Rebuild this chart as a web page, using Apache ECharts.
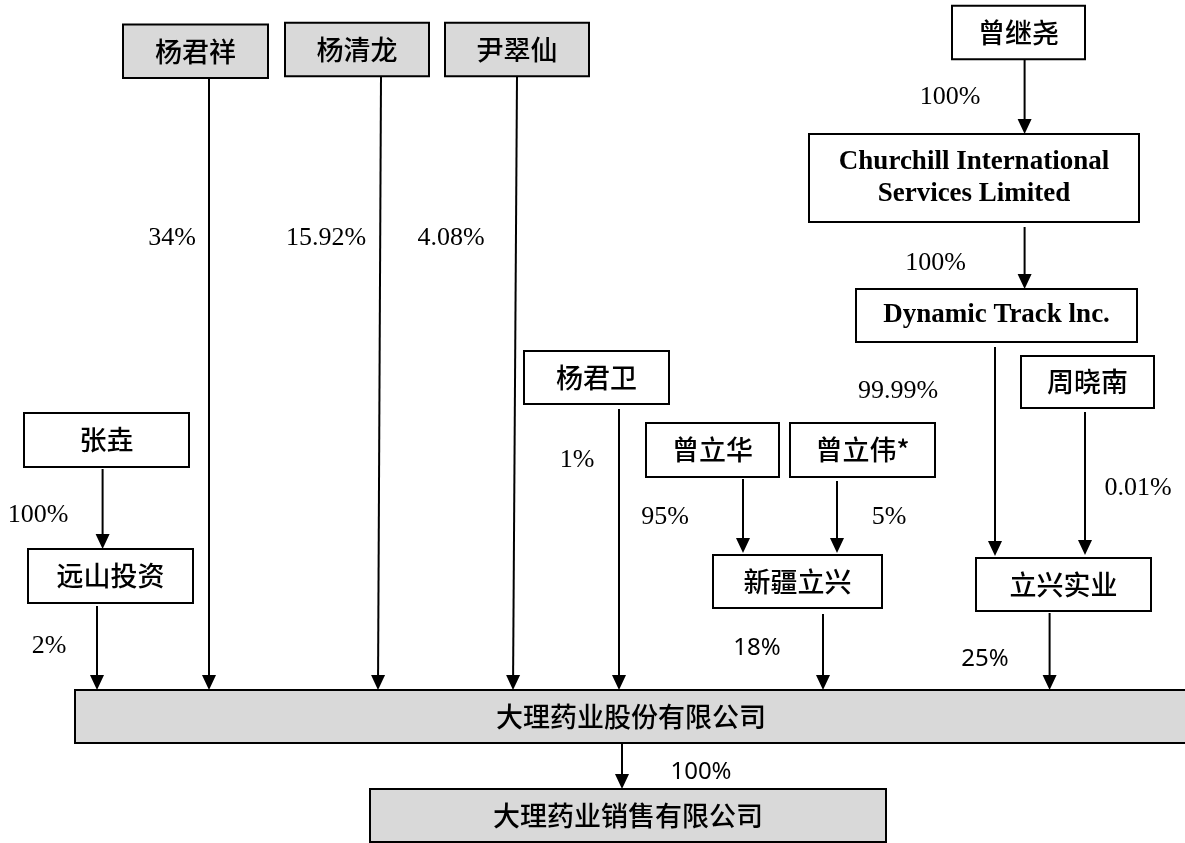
<!DOCTYPE html>
<html><head><meta charset="utf-8">
<script src="https://cdn.jsdelivr.net/npm/echarts@6/dist/echarts.min.js"></script>
<style>html,body{margin:0;padding:0;background:#fff}#main{width:1185px;height:843px}</style>
</head><body><div id="main"></div>
<script>
// ---- data ----
const entityNames = ['杨君祥','杨清龙','尹翠仙','曾继尧','Churchill International\nServices Limited','Dynamic Track lnc.','周晓南','杨君卫','张垚','曾立华','曾立伟*','远山投资','新疆立兴','立兴实业','大理药业股份有限公司','大理药业销售有限公司'];
const linkFrom  = ['杨君祥','杨清龙','尹翠仙','曾继尧','Churchill International\nServices Limited','Dynamic Track lnc.','周晓南','杨君卫','张垚','远山投资','曾立华','曾立伟*','新疆立兴','立兴实业','大理药业股份有限公司'];
const linkTo    = ['大理药业股份有限公司','大理药业股份有限公司','大理药业股份有限公司','Churchill International\nServices Limited','Dynamic Track lnc.','立兴实业','立兴实业','大理药业股份有限公司','远山投资','大理药业股份有限公司','新疆立兴','新疆立兴','大理药业股份有限公司','大理药业股份有限公司','大理药业销售有限公司'];
const linkShare = [34, 15.92, 4.08, 100, 100, 99.99, 0.01, 1, 100, 2, 95, 5, 18, 25, 100];

// ---- layout (diagram coordinates, separate from data) ----
const boxLayout = [
  [123, 24.5, 268, 78], [285, 22.7, 429, 76.3], [445, 22.7, 589, 76.3], [952, 5.7, 1085, 59.3],
  [809, 134, 1139, 222], [856, 289, 1137, 342], [1021, 356, 1154, 408], [524, 351, 669, 404],
  [24, 413, 189, 467], [646, 423, 779, 477], [790, 423, 935, 477], [28, 549, 193, 603],
  [713, 555, 882, 608], [976, 558, 1151, 611], [75, 690, 1200, 743], [370, 789, 886, 842]
];
const boxStyle = ['gray','gray','gray','cn','en','en','cn','cn','cn','cn','cn','cn','cn','cn','gray','gray'];
const textCenterX = {14: 631};
const arrowLayout = [
  [209, 78, 209, 690], [381, 76, 378, 690], [517, 76, 513, 690], [1024.6, 59, 1024.6, 134],
  [1024.6, 227, 1024.6, 289], [995, 347, 995, 556], [1085, 412, 1085, 555], [619, 409, 619, 690],
  [102.6, 469, 102.6, 549], [97, 606, 97, 690], [743, 479, 743, 553], [837, 481, 837, 553],
  [823, 614, 823, 690], [1049.6, 613, 1049.6, 690], [622, 743, 622, 789]
];
const labelLayout = [
  [172, 238, 'serif'], [326, 238, 'serif'], [451, 238, 'serif'], [950, 97, 'serif'],
  [935.5, 263, 'serif'], [898, 391, 'serif'], [1138, 488, 'serif'], [577, 460, 'serif'],
  [38, 515, 'serif'], [49, 646, 'serif'], [665, 517, 'serif'], [889, 517, 'serif'],
  [757, 648, 'sans'], [985, 659, 'sans'], [701, 772, 'sans']
];

const boxData = entityNames.map((n, i) => boxLayout[i].concat([i]));
const arrowData = linkShare.map((v, i) => arrowLayout[i].concat([i]));
const labelData = linkShare.map((v, i) => [labelLayout[i][0], labelLayout[i][1], i]);

const chart = echarts.init(document.getElementById('main'));
chart.setOption({
  animation: false,
  grid: {left: 0, right: 0, top: 0, bottom: 0},
  xAxis: {type: 'value', min: 0, max: 1185, show: false},
  yAxis: {type: 'value', min: 0, max: 843, inverse: true, show: false},
  series: [
    {
      type: 'custom', clip: false, data: boxData,
      renderItem: function (params, api) {
        const p0 = api.coord([api.value(0), api.value(1)]);
        const p1 = api.coord([api.value(2), api.value(3)]);
        const i = api.value(4);
        const st = boxStyle[i];
        const isEn = st === 'en';
        const cx = textCenterX[i] !== undefined ? api.coord([textCenterX[i], 0])[0] : (p0[0] + p1[0]) / 2;
        return {
          type: 'group',
          children: [
            {type: 'rect', shape: {x: p0[0], y: p0[1], width: p1[0] - p0[0], height: p1[1] - p0[1]},
              style: {fill: st === 'gray' ? '#d9d9d9' : '#ffffff', stroke: '#000', lineWidth: 2}},
            {type: 'text', x: cx, y: (p0[1] + p1[1]) / 2,
              style: {
                text: entityNames[i], fill: '#000', align: 'center', verticalAlign: 'middle',
                fontFamily: isEn ? 'Liberation Serif' : 'Noto Sans CJK SC',
                fontWeight: isEn ? 'bold' : 500,
                fontSize: 27, lineHeight: 32
              }}
          ]
        };
      }
    },
    {
      type: 'custom', clip: false, data: arrowData,
      renderItem: function (params, api) {
        const p0 = api.coord([api.value(0), api.value(1)]);
        const p1 = api.coord([api.value(2), api.value(3)]);
        const dx = p1[0] - p0[0], dy = p1[1] - p0[1];
        const len = Math.sqrt(dx * dx + dy * dy);
        const ux = dx / len, uy = dy / len;
        const hl = 15, hw = 7;
        const bx = p1[0] - ux * hl, by = p1[1] - uy * hl;
        return {
          type: 'group',
          children: [
            {type: 'line', shape: {x1: p0[0], y1: p0[1], x2: bx, y2: by}, style: {stroke: '#000', lineWidth: 2}},
            {type: 'polygon', shape: {points: [[p1[0], p1[1]], [bx - uy * hw, by + ux * hw], [bx + uy * hw, by - ux * hw]]},
              style: {fill: '#000'}}
          ]
        };
      }
    },
    {
      type: 'custom', clip: false, data: labelData,
      renderItem: function (params, api) {
        const p = api.coord([api.value(0), api.value(1)]);
        const i = api.value(2);
        const sans = labelLayout[i][2] === 'sans';
        return {
          type: 'text', x: p[0], y: p[1],
          style: {
            text: linkShare[i] + '%', fill: '#000', align: 'center', verticalAlign: 'middle',
            fontFamily: sans ? 'Noto Sans' : 'Liberation Serif', fontSize: sans ? 24 : 26
          }
        };
      }
    }
  ]
});
</script></body></html>
